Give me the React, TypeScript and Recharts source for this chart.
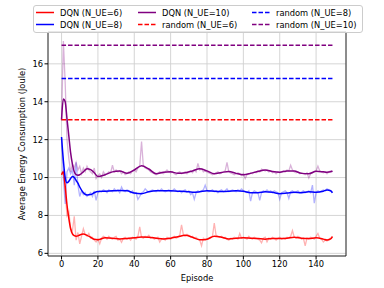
import React from 'react';
import { LineChart, Line, XAxis, YAxis, CartesianGrid, ReferenceArea } from 'recharts';

const episodes = Array.from({ length: 150 }, (_, i) => i);

// raw per-episode energy, DQN
const raw6 = [
  10.2, 10.35, 9.2, 8.0, 8.2, 7.3, 7.2, 7.95, 6.7, 7.1, 6.5, 6.9, 7.3, 7.0, 6.9, 7.05, 6.8, 6.85, 6.7, 6.6,
  6.75, 6.5, 6.8, 6.9, 6.85, 6.75, 6.9, 6.8, 6.75, 6.85, 6.9, 6.7, 6.75, 6.58, 6.8, 6.85, 6.75, 6.8, 6.7, 6.85,
  6.8, 6.75, 6.9, 7.4, 6.85, 6.8, 6.9, 6.85, 6.95, 6.8, 6.85, 6.75, 6.8, 6.85, 6.6, 6.75, 6.8, 6.7, 6.85, 6.8,
  6.75, 6.85, 6.9, 6.8, 6.85, 6.95, 7.5, 7.0, 6.9, 7.0, 6.95, 6.85, 6.9, 6.8, 6.85, 6.75, 6.7, 6.4, 6.8, 6.7,
  6.75, 6.8, 6.85, 6.9, 7.6, 6.95, 6.9, 6.85, 6.9, 6.8, 6.85, 6.75, 6.7, 6.8, 6.75, 6.85, 6.8, 6.75, 7.05, 6.8,
  6.85, 6.8, 6.75, 6.9, 6.8, 6.75, 6.85, 6.8, 6.75, 6.7, 6.55, 6.8, 6.85, 6.6, 6.8, 6.75, 6.85, 6.8, 6.7, 6.8,
  6.85, 6.75, 6.8, 6.75, 6.85, 6.8, 6.9, 7.2, 6.85, 6.8, 6.9, 6.85, 6.75, 6.8, 6.4, 6.8, 6.75, 6.85, 6.8, 6.75,
  6.9, 7.05, 6.8, 6.75, 6.6, 6.7, 6.65, 6.75, 6.8, 6.9,
];
const raw8 = [
  12.1, 10.0, 8.6, 10.3, 10.5, 10.2, 10.4, 9.6, 10.8, 9.6, 9.0, 9.3, 9.1, 9.2, 9.0, 9.1, 9.2, 9.0, 9.3, 8.8,
  9.2, 9.3, 9.25, 9.35, 9.3, 9.2, 9.35, 9.3, 9.25, 9.4, 9.3, 9.35, 9.2, 9.5, 9.3, 9.25, 9.35, 9.3, 9.2, 9.3,
  9.15, 9.2, 8.85, 9.0, 9.2, 9.25, 9.4, 9.3, 9.25, 9.3, 9.35, 9.3, 9.25, 9.35, 9.3, 9.4, 9.3, 9.25, 9.3, 9.35,
  9.25, 9.3, 9.4, 9.3, 9.25, 9.3, 9.2, 9.3, 9.35, 9.25, 9.3, 9.1, 9.2, 8.85, 9.2, 9.3, 9.25, 9.3, 9.35, 9.6,
  9.3, 9.25, 9.3, 9.35, 9.25, 9.3, 9.2, 9.3, 9.35, 9.25, 9.3, 9.4, 9.25, 9.3, 9.35, 9.3, 9.25, 9.35, 9.3, 9.4,
  9.3, 9.25, 9.2, 9.3, 8.75, 9.2, 9.3, 9.25, 9.2, 8.8, 9.2, 9.3, 9.25, 9.35, 9.25, 9.3, 9.2, 9.3, 9.25, 9.2,
  8.85, 9.2, 9.25, 9.3, 9.2, 8.9, 9.25, 9.3, 9.2, 9.25, 9.3, 9.2, 9.25, 9.3, 9.2, 9.25, 9.3, 9.2, 9.6, 8.65,
  9.2, 9.3, 9.25, 9.3, 9.35, 9.3, 9.4, 9.35, 9.3, 9.2,
];
const raw10 = [
  13.0, 17.2, 15.0, 12.0, 11.0, 10.3, 10.7, 10.5, 10.8, 10.4, 10.6, 10.2, 10.5, 10.3, 10.6, 10.4, 10.3, 10.2, 10.5, 9.95,
  10.1, 10.2, 10.0, 10.3, 10.15, 10.2, 10.3, 10.25, 10.65, 10.3, 10.4, 10.3, 10.35, 10.2, 10.3, 10.15, 10.2, 10.3, 10.2, 10.35,
  10.4, 10.3, 10.5, 10.6, 11.9, 10.6, 10.5, 10.45, 10.4, 10.3, 10.25, 10.2, 10.15, 10.2, 10.3, 10.25, 10.2, 10.3, 10.4, 10.3,
  10.25, 10.3, 10.2, 10.15, 10.25, 10.3, 10.2, 10.25, 10.3, 10.2, 10.3, 10.35, 10.25, 10.4, 10.3, 10.75, 10.4, 10.45, 10.3, 10.35,
  10.3, 10.25, 10.2, 10.15, 10.2, 10.25, 10.3, 10.2, 10.25, 10.3, 10.35, 10.8, 10.3, 10.25, 10.2, 10.15, 10.2, 10.25, 10.2, 10.1,
  10.2, 9.95, 10.15, 10.2, 10.25, 10.2, 10.3, 10.25, 10.35, 10.3, 10.45, 10.4, 10.35, 10.4, 10.3, 10.35, 10.25, 10.3, 10.2, 10.3,
  10.25, 10.3, 10.35, 10.3, 10.4, 10.35, 10.65, 10.4, 10.3, 10.25, 10.3, 10.2, 10.25, 10.2, 10.15, 10.25, 9.98, 10.2, 10.25, 10.3,
  10.35, 10.6, 10.35, 10.3, 10.25, 10.3, 10.2, 10.3, 10.35, 10.3,
];

// smoothed curves, sampled at these episodes
const smoothEpisodes = [
  0, 1, 2, 3, 4, 5, 6, 7, 8, 9, 10, 12, 14, 16, 18, 20, 24, 28, 32, 36, 40, 44, 48, 52, 56, 60, 64, 68, 72, 76,
  80, 84, 88, 92, 96, 100, 104, 108, 112, 116, 120, 124, 128, 132, 136, 140, 144, 146, 148, 149,
];
const smooth6 = [
  10.14, 10.3, 9.55, 8.55, 7.85, 7.3, 7.03, 6.93, 6.9, 6.92, 6.97, 7.02, 6.95, 6.85, 6.74, 6.72, 6.82, 6.8, 6.76, 6.78,
  6.82, 6.86, 6.85, 6.8, 6.76, 6.8, 6.88, 6.95, 6.85, 6.72, 6.75, 6.9, 6.85, 6.76, 6.8, 6.82, 6.8, 6.78, 6.75, 6.78,
  6.78, 6.8, 6.85, 6.8, 6.78, 6.82, 6.75, 6.7, 6.76, 6.88,
];
const smooth8 = [
  12.14, 10.9, 10.0, 9.72, 9.8, 9.95, 10.05, 10.0, 9.85, 9.7, 9.5, 9.2, 9.08, 9.1, 9.2, 9.26, 9.28, 9.3, 9.32, 9.3,
  9.18, 9.15, 9.25, 9.3, 9.3, 9.3, 9.28, 9.27, 9.22, 9.25, 9.3, 9.28, 9.27, 9.28, 9.3, 9.28, 9.2, 9.2, 9.25, 9.22,
  9.15, 9.18, 9.22, 9.2, 9.25, 9.22, 9.28, 9.34, 9.3, 9.2,
];
const smooth10 = [
  13.05, 14.15, 14.0, 13.1, 12.2, 11.3, 10.7, 10.3, 10.15, 10.12, 10.15, 10.3, 10.46, 10.42, 10.25, 10.05, 10.15, 10.3, 10.35, 10.22,
  10.4, 10.62, 10.45, 10.2, 10.28, 10.3, 10.22, 10.25, 10.35, 10.46, 10.35, 10.2, 10.27, 10.32, 10.22, 10.15, 10.22, 10.32, 10.4, 10.32,
  10.28, 10.35, 10.34, 10.22, 10.2, 10.33, 10.3, 10.28, 10.3, 10.35,
];

// random baseline means (N_UE = 6, 8, 10)
const randomMeans = [13.05, 15.22, 16.98];
const randomEpisodes = [0, 149];

const xTicks = [0, 20, 40, 60, 80, 100, 120, 140];
const yTicks = [6, 8, 10, 12, 14, 16];

const rawData = episodes.map((e, i) => ({ episode: e, n6: raw6[i], n8: raw8[i], n10: raw10[i] }));
const smoothData = smoothEpisodes.map((e, i) => ({ episode: e, s6: smooth6[i], s8: smooth8[i], s10: smooth10[i] }));
const randomData = randomEpisodes.map((e) => ({ episode: e, r6: randomMeans[0], r8: randomMeans[1], r10: randomMeans[2] }));

const RED = '#ff0000';
const BLUE = '#0000ff';
const PURPLE = '#800080';
const FONT = '"DejaVu Sans", sans-serif';
const X_DOMAIN: [number, number] = [-7.45, 156.45];
const Y_DOMAIN: [number, number] = [5.86, 17.68];

const legendItems = [
  { label: 'DQN (N_UE=6)', color: RED, dashed: false, x: 36, y: 12.5 },
  { label: 'DQN (N_UE=8)', color: BLUE, dashed: false, x: 36, y: 24.5 },
  { label: 'DQN (N_UE=10)', color: PURPLE, dashed: false, x: 138, y: 12.5 },
  { label: 'random (N_UE=6)', color: RED, dashed: true, x: 138, y: 24.5 },
  { label: 'random (N_UE=8)', color: BLUE, dashed: true, x: 252, y: 12.5 },
  { label: 'random (N_UE=10)', color: PURPLE, dashed: true, x: 252, y: 24.5 },
];

const Legend = () => (
  <svg width={384} height={40} style={{ position: 'absolute', left: 0, top: 0 }}>
    <rect x={33.5} y={5.5} width={329} height={27} rx={2.5} fill="#fff" fillOpacity={0.8} stroke="#cccccc" />
    {legendItems.map((it) => (
      <g key={it.label}>
        <line
          x1={it.x}
          x2={it.x + 18}
          y1={it.y}
          y2={it.y}
          stroke={it.color}
          strokeWidth={1.5}
          strokeDasharray={it.dashed ? '4.5 2' : undefined}
        />
        <text x={it.x + 24} y={it.y + 3} fontSize={8.3} fontFamily={FONT} fill="#000">
          {it.label}
        </text>
      </g>
    ))}
  </svg>
);

export default function App() {
  return (
    <div style={{ position: 'fixed', left: 0, top: 0, width: 384, height: 288, background: '#fff' }}>
      <LineChart width={384} height={288} data={rawData} margin={{ top: 32, right: 38, bottom: 0, left: 0 }}>
        <CartesianGrid stroke="#d0d0d0" strokeWidth={0.9} />
        <XAxis
          dataKey="episode"
          type="number"
          domain={X_DOMAIN}
          ticks={xTicks}
          allowDataOverflow
          height={32}
          axisLine={false}
          tickLine={{ stroke: '#000' }}
          tickSize={3.5}
          tickMargin={1.5}
          tick={{ fill: '#000', fontSize: 8.3, fontFamily: FONT }}
          label={{ value: 'Episode', position: 'insideBottom', offset: 7, fill: '#000', fontSize: 8.3, fontFamily: FONT }}
        />
        <YAxis
          type="number"
          domain={Y_DOMAIN}
          ticks={yTicks}
          allowDataOverflow
          width={48}
          axisLine={false}
          tickLine={{ stroke: '#000' }}
          tickSize={3.5}
          tickMargin={1.5}
          tick={{ fill: '#000', fontSize: 8.3, fontFamily: FONT }}
          label={{
            value: 'Average Energy Consumption (Joule)',
            angle: -90,
            position: 'insideLeft',
            offset: 22,
            style: { textAnchor: 'middle' },
            fill: '#000',
            fontSize: 8.3,
            fontFamily: FONT,
          }}
        />
        <Line dataKey="n6" type="linear" stroke={RED} strokeOpacity={0.3} strokeWidth={1.3} dot={false} isAnimationActive={false} />
        <Line dataKey="n8" type="linear" stroke={BLUE} strokeOpacity={0.3} strokeWidth={1.3} dot={false} isAnimationActive={false} />
        <Line dataKey="n10" type="linear" stroke={PURPLE} strokeOpacity={0.3} strokeWidth={1.3} dot={false} isAnimationActive={false} />
        <Line data={smoothData} dataKey="s6" type="monotone" stroke={RED} strokeWidth={1.5} dot={false} isAnimationActive={false} />
        <Line data={smoothData} dataKey="s8" type="monotone" stroke={BLUE} strokeWidth={1.5} dot={false} isAnimationActive={false} />
        <Line data={smoothData} dataKey="s10" type="monotone" stroke={PURPLE} strokeWidth={1.5} dot={false} isAnimationActive={false} />
        <Line data={randomData} dataKey="r6" type="linear" stroke={RED} strokeWidth={1.5} strokeDasharray="4.5 2" dot={false} isAnimationActive={false} />
        <Line data={randomData} dataKey="r8" type="linear" stroke={BLUE} strokeWidth={1.5} strokeDasharray="4.5 2" dot={false} isAnimationActive={false} />
        <Line data={randomData} dataKey="r10" type="linear" stroke={PURPLE} strokeWidth={1.5} strokeDasharray="4.5 2" dot={false} isAnimationActive={false} />
        <ReferenceArea x1={X_DOMAIN[0]} x2={X_DOMAIN[1]} y1={Y_DOMAIN[0]} y2={Y_DOMAIN[1]} fill="none" stroke="#000" strokeWidth={0.8} ifOverflow="visible" />
      </LineChart>
      <Legend />
    </div>
  );
}
